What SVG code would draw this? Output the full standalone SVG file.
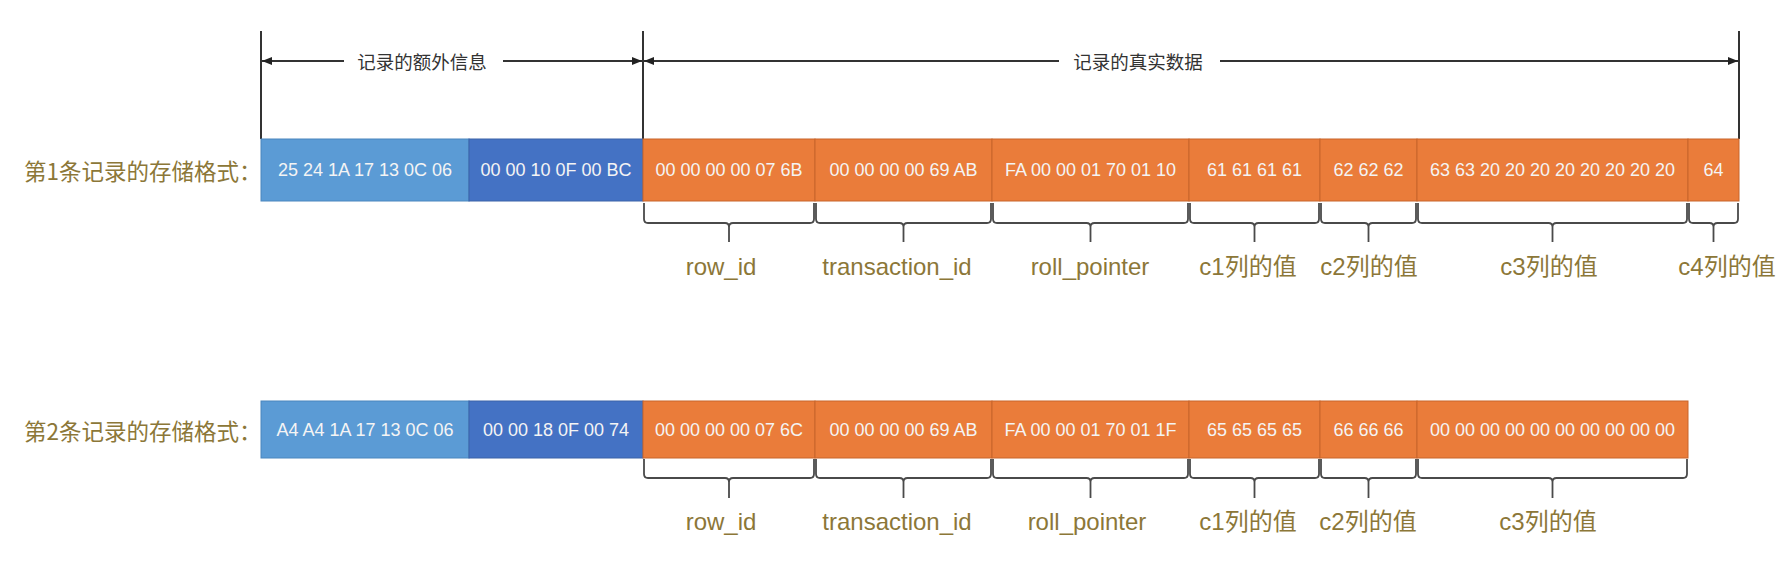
<svg xmlns="http://www.w3.org/2000/svg" width="1791" height="571" viewBox="0 0 1791 571">
<defs>
<style>
.bg{fill:#ffffff}
.lb{fill:#5B9BD5;stroke:#4A86BE;stroke-width:1}
.db{fill:#4472C4;stroke:#3A62A8;stroke-width:1}
.or{fill:#EA7C3A;stroke:#C8652B;stroke-width:1}
.hex{font-family:"Liberation Sans","Noto Sans CJK SC",sans-serif;font-size:18px;fill:#F4F4F4;text-anchor:middle;dominant-baseline:central}
.rowlbl{font-family:"Noto Sans CJK SC","Liberation Sans",sans-serif;font-size:22.5px;fill:#8C7738;dominant-baseline:central}
.fld{font-family:"Liberation Sans","Noto Sans CJK SC",sans-serif;font-size:24px;fill:#8C7738;text-anchor:middle}
.top{font-family:"Noto Sans CJK SC","Liberation Sans",sans-serif;font-size:18.5px;fill:#333333;text-anchor:middle;dominant-baseline:central}
.ln{stroke:#333333;stroke-width:2;fill:none}
.ar{stroke:#333333;stroke-width:1.8;fill:none}
.br{stroke:#4A4A4A;stroke-width:1.8;fill:none}
</style>
<marker id="ah" viewBox="0 0 10 8" refX="10" refY="4" markerWidth="10" markerHeight="8" markerUnits="userSpaceOnUse" orient="auto">
<path d="M0,0 L10,4 L0,8 Z" fill="#222222"/>
</marker>
</defs>
<rect class="bg" x="0" y="0" width="1791" height="571"/>

<g id="connectors">
<line class="ln" x1="261" y1="31" x2="261" y2="139"/>
<line class="ln" x1="643" y1="31" x2="643" y2="139"/>
<line class="ln" x1="1739" y1="31" x2="1739" y2="139"/>
<line class="ar" x1="344" y1="61" x2="262" y2="61" marker-end="url(#ah)"/>
<line class="ar" x1="503" y1="61" x2="642" y2="61" marker-end="url(#ah)"/>
<line class="ar" x1="1059" y1="61" x2="644" y2="61" marker-end="url(#ah)"/>
<line class="ar" x1="1220" y1="61" x2="1738" y2="61" marker-end="url(#ah)"/>
</g>

<g id="label-extra"><text class="top" x="422" y="61">记录的额外信息</text></g>
<g id="label-real"><text class="top" x="1138" y="61">记录的真实数据</text></g>

<g id="record1">
<text class="rowlbl" x="24" y="170">第1条记录的存储格式：</text>
<g id="r1-extra1"><rect class="lb" x="261" y="139" width="208" height="62"/><text class="hex" x="365" y="170">25 24 1A 17 13 0C 06</text></g>
<g id="r1-extra2"><rect class="db" x="469" y="139" width="174" height="62"/><text class="hex" x="556" y="170">00 00 10 0F 00 BC</text></g>
<g id="r1-rowid"><rect class="or" x="643" y="139" width="172" height="62"/><text class="hex" x="729" y="170">00 00 00 00 07 6B</text></g>
<g id="r1-trx"><rect class="or" x="815" y="139" width="177" height="62"/><text class="hex" x="903.5" y="170">00 00 00 00 69 AB</text></g>
<g id="r1-roll"><rect class="or" x="992" y="139" width="197" height="62"/><text class="hex" x="1090.5" y="170">FA 00 00 01 70 01 10</text></g>
<g id="r1-c1"><rect class="or" x="1189" y="139" width="131" height="62"/><text class="hex" x="1254.5" y="170">61 61 61 61</text></g>
<g id="r1-c2"><rect class="or" x="1320" y="139" width="97" height="62"/><text class="hex" x="1368.5" y="170">62 62 62</text></g>
<g id="r1-c3"><rect class="or" x="1417" y="139" width="271" height="62"/><text class="hex" x="1552.5" y="170">63 63 20 20 20 20 20 20 20 20</text></g>
<g id="r1-c4"><rect class="or" x="1688" y="139" width="51" height="62"/><text class="hex" x="1713.5" y="170">64</text></g>
</g>

<g id="braces1">
<path class="br" d="M644,203 L644,219 Q644,223 648,223 L725,223 Q729,223 729,227 L729,242 M729,227 Q729,223 733,223 L810,223 Q814,223 814,219 L814,203"/>
<path class="br" d="M816,203 L816,219 Q816,223 820,223 L899.5,223 Q903.5,223 903.5,227 L903.5,242 M903.5,227 Q903.5,223 907.5,223 L987,223 Q991,223 991,219 L991,203"/>
<path class="br" d="M993,203 L993,219 Q993,223 997,223 L1086.5,223 Q1090.5,223 1090.5,227 L1090.5,242 M1090.5,227 Q1090.5,223 1094.5,223 L1184,223 Q1188,223 1188,219 L1188,203"/>
<path class="br" d="M1190,203 L1190,219 Q1190,223 1194,223 L1250.5,223 Q1254.5,223 1254.5,227 L1254.5,242 M1254.5,227 Q1254.5,223 1258.5,223 L1315,223 Q1319,223 1319,219 L1319,203"/>
<path class="br" d="M1321,203 L1321,219 Q1321,223 1325,223 L1364.5,223 Q1368.5,223 1368.5,227 L1368.5,242 M1368.5,227 Q1368.5,223 1372.5,223 L1412,223 Q1416,223 1416,219 L1416,203"/>
<path class="br" d="M1418,203 L1418,219 Q1418,223 1422,223 L1548.5,223 Q1552.5,223 1552.5,227 L1552.5,242 M1552.5,227 Q1552.5,223 1556.5,223 L1683,223 Q1687,223 1687,219 L1687,203"/>
<path class="br" d="M1689,203 L1689,219 Q1689,223 1693,223 L1709.5,223 Q1713.5,223 1713.5,227 L1713.5,242 M1713.5,227 Q1713.5,223 1717.5,223 L1734,223 Q1738,223 1738,219 L1738,203"/>
</g>

<g id="fields1">
<text class="fld" x="721" y="275">row_id</text>
<text class="fld" x="897" y="275">transaction_id</text>
<text class="fld" x="1090" y="275">roll_pointer</text>
<text class="fld" x="1248" y="275">c1列的值</text>
<text class="fld" x="1369" y="275">c2列的值</text>
<text class="fld" x="1549" y="275">c3列的值</text>
<text class="fld" x="1727" y="275">c4列的值</text>
</g>

<g id="record2">
<text class="rowlbl" x="24" y="430">第2条记录的存储格式：</text>
<g id="r2-extra1"><rect class="lb" x="261" y="401" width="208" height="57"/><text class="hex" x="365" y="430">A4 A4 1A 17 13 0C 06</text></g>
<g id="r2-extra2"><rect class="db" x="469" y="401" width="174" height="57"/><text class="hex" x="556" y="430">00 00 18 0F 00 74</text></g>
<g id="r2-rowid"><rect class="or" x="643" y="401" width="172" height="57"/><text class="hex" x="729" y="430">00 00 00 00 07 6C</text></g>
<g id="r2-trx"><rect class="or" x="815" y="401" width="177" height="57"/><text class="hex" x="903.5" y="430">00 00 00 00 69 AB</text></g>
<g id="r2-roll"><rect class="or" x="992" y="401" width="197" height="57"/><text class="hex" x="1090.5" y="430">FA 00 00 01 70 01 1F</text></g>
<g id="r2-c1"><rect class="or" x="1189" y="401" width="131" height="57"/><text class="hex" x="1254.5" y="430">65 65 65 65</text></g>
<g id="r2-c2"><rect class="or" x="1320" y="401" width="97" height="57"/><text class="hex" x="1368.5" y="430">66 66 66</text></g>
<g id="r2-c3"><rect class="or" x="1417" y="401" width="271" height="57"/><text class="hex" x="1552.5" y="430">00 00 00 00 00 00 00 00 00 00</text></g>
</g>

<g id="braces2">
<path class="br" d="M644,459 L644,474 Q644,478 648,478 L725,478 Q729,478 729,482 L729,498 M729,482 Q729,478 733,478 L810,478 Q814,478 814,474 L814,459"/>
<path class="br" d="M816,459 L816,474 Q816,478 820,478 L899.5,478 Q903.5,478 903.5,482 L903.5,498 M903.5,482 Q903.5,478 907.5,478 L987,478 Q991,478 991,474 L991,459"/>
<path class="br" d="M993,459 L993,474 Q993,478 997,478 L1086.5,478 Q1090.5,478 1090.5,482 L1090.5,498 M1090.5,482 Q1090.5,478 1094.5,478 L1184,478 Q1188,478 1188,474 L1188,459"/>
<path class="br" d="M1190,459 L1190,474 Q1190,478 1194,478 L1250.5,478 Q1254.5,478 1254.5,482 L1254.5,498 M1254.5,482 Q1254.5,478 1258.5,478 L1315,478 Q1319,478 1319,474 L1319,459"/>
<path class="br" d="M1321,459 L1321,474 Q1321,478 1325,478 L1364.5,478 Q1368.5,478 1368.5,482 L1368.5,498 M1368.5,482 Q1368.5,478 1372.5,478 L1412,478 Q1416,478 1416,474 L1416,459"/>
<path class="br" d="M1418,459 L1418,474 Q1418,478 1422,478 L1548.5,478 Q1552.5,478 1552.5,482 L1552.5,498 M1552.5,482 Q1552.5,478 1556.5,478 L1683,478 Q1687,478 1687,474 L1687,459"/>
</g>

<g id="fields2">
<text class="fld" x="721" y="530">row_id</text>
<text class="fld" x="897" y="530">transaction_id</text>
<text class="fld" x="1087" y="530">roll_pointer</text>
<text class="fld" x="1248" y="530">c1列的值</text>
<text class="fld" x="1368" y="530">c2列的值</text>
<text class="fld" x="1548" y="530">c3列的值</text>
</g>
</svg>
